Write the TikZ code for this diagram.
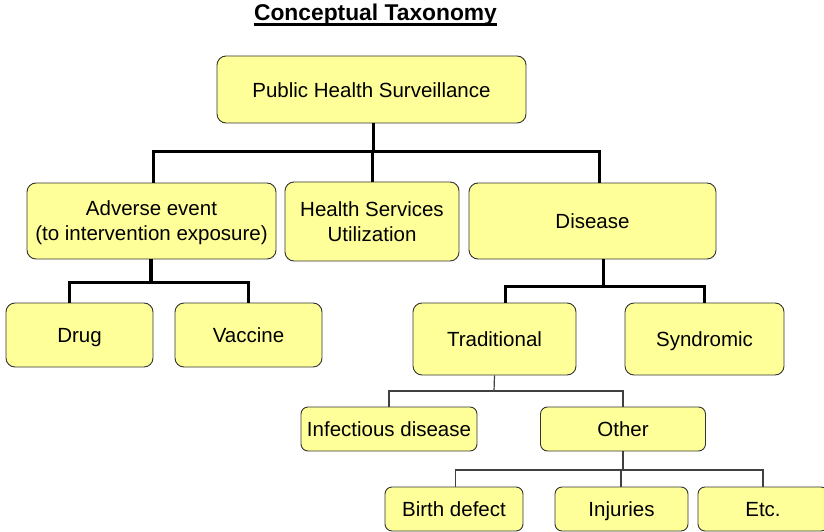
\documentclass[tikz,border=0pt]{standalone}
\usepackage{fontspec}
\setmainfont{Liberation Sans}
\usetikzlibrary{calc}
\begin{document}
\begin{tikzpicture}[x=1pt,y=-1pt,
  box/.style={draw=black!80, line width=0.9pt, fill=yellow1, rounded corners=9pt,
    inner sep=0pt, align=center, font=\fontsize{20.5}{25}\selectfont},
  one/.style={text height=18pt, text depth=2.5pt},
  thickc/.style={line width=3pt, black},
  thinc/.style={line width=1.2pt, black!75},
]
\definecolor{yellow1}{HTML}{FFFF99}
\useasboundingbox (0,0) rectangle (824,532);
% title
\node[font=\fontsize{22.8}{26}\selectfont\bfseries, inner sep=0pt, anchor=base] (title) at (375.5,21) {Conceptual Taxonomy};
\draw[line width=2.4pt] ([yshift=-3.4pt]title.base west) -- ([yshift=-3.4pt]title.base east);
% nodes
\node[box, one, minimum width=309pt, minimum height=67pt] (phs) at (371.5,89.5) {Public Health Surveillance};
\node[box, text depth=0pt, minimum width=249pt, minimum height=76pt] (ae) at (151.5,221) {Adverse event\\(to intervention exposure)};
\node[box, minimum width=174pt, minimum height=79pt] (hsu) at (372,221.5) {Health Services\\Utilization};
\node[box, one, minimum width=247pt, minimum height=76pt] (dis) at (592.5,221) {Disease};
\node[box, one, minimum width=147pt, minimum height=64pt] (drug) at (79.5,335) {Drug};
\node[box, one, minimum width=147pt, minimum height=64pt] (vac) at (248.5,335) {Vaccine};
\node[box, one, minimum width=163pt, minimum height=72pt] (trad) at (494.5,339) {Traditional};
\node[box, one, minimum width=159pt, minimum height=72pt] (syn) at (704.5,339) {Syndromic};
\node[box, one, rounded corners=7pt, minimum width=176pt, minimum height=44pt] (inf) at (389,429) {Infectious disease};
\node[box, one, rounded corners=7pt, minimum width=165pt, minimum height=44pt] (oth) at (623,429) {Other};
\node[box, one, rounded corners=7pt, minimum width=138pt, minimum height=44pt] (bd) at (454,509) {Birth defect};
\node[box, one, rounded corners=7pt, minimum width=133pt, minimum height=44pt] (inj) at (621.5,509) {Injuries};
\node[box, one, rounded corners=7pt, minimum width=130pt, minimum height=44pt] (etc) at (763,509) {Etc.};
% junctions
\coordinate (j1) at (373,151);
\coordinate (j2) at (151,282);
\coordinate (j3) at (603,286);
\coordinate (j4) at (494,391);
\coordinate (j5) at (623,470);
% connectors
\draw[thickc] ([xshift=1.5pt]phs.south) -- (j1);
\draw[thickc] ([xshift=1.5pt]ae.north) |- (j1) -| ([xshift=6.5pt]dis.north);
\draw[thickc] (hsu.north |- j1) -- (hsu.north);
\draw[line width=4pt] ([xshift=-0.5pt]ae.south) -- (j2);
\draw[thickc] ([xshift=-10.5pt]drug.north) |- (j2) -| ([xshift=-0.5pt]vac.north);
\draw[thickc] ([xshift=10.5pt]dis.south) -- (j3);
\draw[thickc] ([xshift=10.5pt]trad.north) |- (j3) -| ([xshift=-0.5pt]syn.north);
\draw[thinc] (trad.south) -- (j4);
\draw[thinc] (inf.north) |- (j4) -| (oth.north);
\draw[thinc] (oth.south) -- (j5);
\draw[thinc] ([xshift=1.5pt]bd.north) |- (j5) -| (etc.north);
\draw[thinc] ([xshift=-0.5pt]inj.north) -- ([xshift=-0.5pt]inj.north |- j5);
\end{tikzpicture}
\end{document}
